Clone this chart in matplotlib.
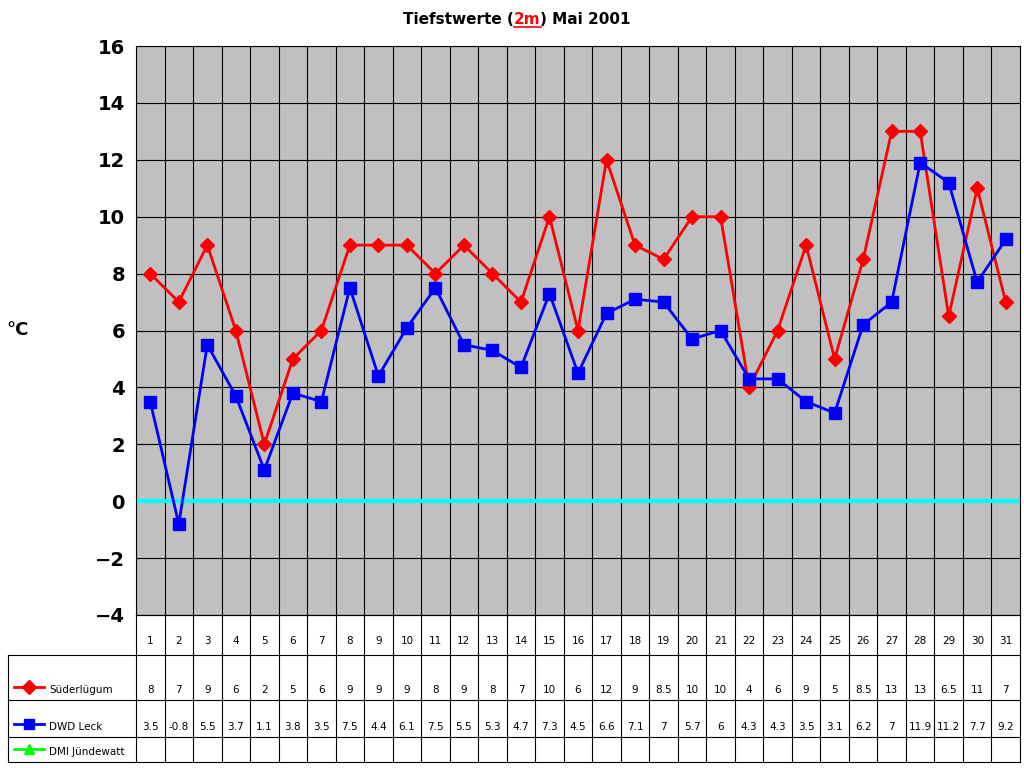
import matplotlib
matplotlib.use("Agg")
import matplotlib.pyplot as plt
from matplotlib.lines import Line2D

days = list(range(1, 32))
sued = [8,7,9,6,2,5,6,9,9,9,8,9,8,7,10,6,12,9,8.5,10,10,4,6,9,5,8.5,13,13,6.5,11,7]
leck = [3.5,-0.8,5.5,3.7,1.1,3.8,3.5,7.5,4.4,6.1,7.5,5.5,5.3,4.7,7.3,4.5,6.6,7.1,7,5.7,6,4.3,4.3,3.5,3.1,6.2,7,11.9,11.2,7.7,9.2]
series = [("Süderlügum", sued, "#ff0000", "D"), ("DWD Leck", leck, "#0000ff", "s"), ("DMI Jündewatt", None, "#00ff00", "^")]

W, H = 1024, 768
fig = plt.figure(figsize=(10.24, 7.68), dpi=100)
L, R, T, B = 136, 1020, 46, 615
ax = fig.add_axes([L/W, 1-B/H, (R-L)/W, (B-T)/H])
ax.set_facecolor("#c0c0c0")
ax.set_xlim(0.5, 31.5); ax.set_ylim(-4, 16)
ax.set_yticks(range(-4, 17, 2))
ax.tick_params(axis='y', labelsize=14, length=0, pad=8)
for lab in ax.get_yticklabels(): lab.set_fontweight('bold')
ax.set_xticks([])
for v in range(-4, 17, 2):
    ax.axhline(v, color='black', lw=0.8, zorder=1)
for d in range(31):
    ax.axvline(d+0.5, color='black', lw=0.8, zorder=1)
ax.axhline(0, color='#00ffff', lw=3, zorder=2)
ax.plot(days, sued, color='red', marker='D', ms=7, lw=2, zorder=3)
ax.plot(days, leck, color='blue', marker='s', ms=8, lw=2, zorder=4)
for s in ax.spines.values(): s.set_color('black')

# title
fig.text(0.5, 1-20/H, "Tiefstwerte (2m) Mai 2001", ha='center', va='center', fontsize=11, fontweight='bold', alpha=0)
t1 = fig.text(403/W, 1-20/H, "Tiefstwerte (", ha='left', va='center', fontsize=11, fontweight='bold')
fig.canvas.draw()
bb = t1.get_window_extent()
t2 = fig.text(bb.x1/W, 1-20/H, "2m", ha='left', va='center', fontsize=11, fontweight='bold', color='red')
fig.canvas.draw()
bb2 = t2.get_window_extent()
fig.add_artist(Line2D([bb2.x0/W, bb2.x1/W], [(bb2.y0+1)/H]*2, color='red', lw=1.2))
fig.text(bb2.x1/W, 1-20/H, ") Mai 2001", ha='left', va='center', fontsize=11, fontweight='bold')
fig.text(18/W, 1-330/H, "°C", ha='center', va='center', fontsize=13, fontweight='bold')

# data table
tx = fig.add_axes([0, 0, 1, 1]); tx.set_xlim(0, W); tx.set_ylim(H, 0); tx.axis('off')
rows = [615, 655, 700, 737, 762]
cw = (R-L)/31
lc = dict(color='black', lw=0.8)
tx.plot([L, L], [rows[0], rows[-1]], **lc)
tx.plot([R, R], [rows[0], rows[-1]], **lc)
tx.plot([8, 8], [rows[1], rows[-1]], **lc)
for i in range(1, 31):
    tx.plot([L+i*cw]*2, [rows[0], rows[-1]], **lc)
tx.plot([L, R], [rows[0]]*2, **lc)
for y in rows[1:]:
    tx.plot([8, R], [y, y], **lc)
for i, d in enumerate(days):
    tx.text(L+(i+0.5)*cw, 641, str(d), ha='center', va='center', fontsize=7.5)
for r, (name, vals, col, mk) in enumerate(series):
    yb = rows[r+2]-10
    tx.plot([14, 44], [yb-3, yb-3], color=col, lw=2)
    tx.plot([29], [yb-3], color=col, marker=mk, ms=7)
    tx.text(49, yb, name, ha='left', va='center', fontsize=7.5)
    if vals:
        for i, v in enumerate(vals):
            tx.text(L+(i+0.5)*cw, yb, f"{v:g}", ha='center', va='center', fontsize=7.5)

fig.savefig("out.png", dpi=100)
